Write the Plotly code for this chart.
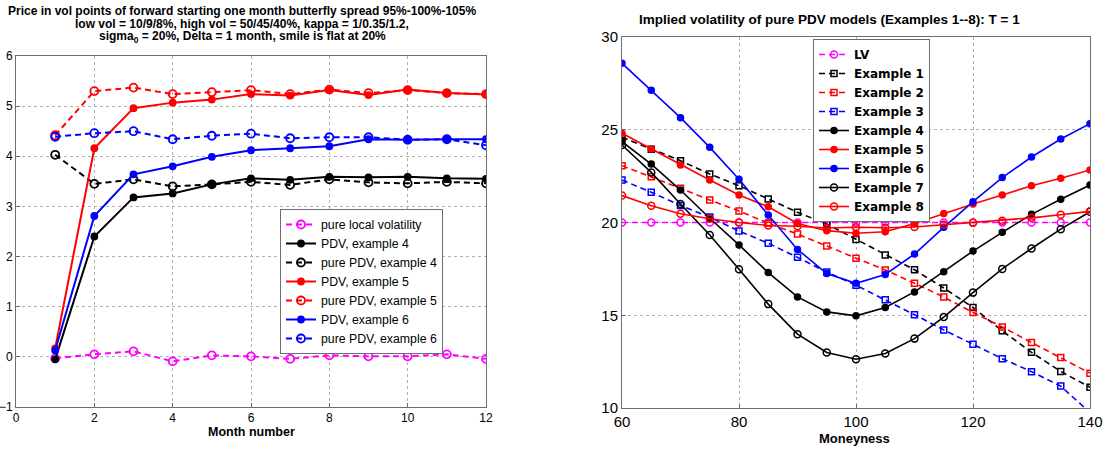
import plotly.graph_objects as go

# ---------------- Left chart data ----------------
months = [1, 2, 3, 4, 5, 6, 7, 8, 9, 10, 11, 12]
pure_lv = [-0.03, 0.05, 0.11, -0.09, 0.03, 0.01, -0.04, 0.03, 0.01, 0.01, 0.05, -0.04]
pdv_ex4 = [-0.05, 2.40, 3.18, 3.26, 3.44, 3.56, 3.53, 3.59, 3.58, 3.59, 3.56, 3.55]
pure_pdv_ex4 = [4.03, 3.45, 3.54, 3.40, 3.44, 3.49, 3.43, 3.54, 3.48, 3.46, 3.49, 3.46]
pdv_ex5 = [0.17, 4.16, 4.96, 5.07, 5.13, 5.24, 5.21, 5.32, 5.22, 5.33, 5.26, 5.23]
pure_pdv_ex5 = [4.42, 5.30, 5.37, 5.24, 5.28, 5.32, 5.24, 5.33, 5.26, 5.32, 5.26, 5.24]
pdv_ex6 = [0.13, 2.81, 3.64, 3.80, 3.99, 4.12, 4.16, 4.20, 4.34, 4.33, 4.34, 4.34]
pure_pdv_ex6 = [4.39, 4.46, 4.50, 4.34, 4.41, 4.45, 4.36, 4.38, 4.38, 4.33, 4.34, 4.22]

# ---------------- Right chart data ----------------
moneyness = [60, 65, 70, 75, 80, 85, 90, 95, 100, 105, 110, 115, 120, 125, 130, 135, 140]
lv = [20, 20, 20, 20, 20, 20, 20, 20, 20, 20, 20, 20, 20, 20, 20, 20, 20]
ex1 = [24.6, 23.95, 23.33, 22.61, 21.98, 21.27, 20.55, 19.92, 19.09, 18.25, 17.45, 16.47, 15.42, 14.16, 13.0, 11.97, 11.12]
ex2 = [23.06, 22.47, 21.84, 21.21, 20.62, 19.96, 19.38, 18.73, 18.07, 17.44, 16.72, 15.98, 15.15, 14.37, 13.53, 12.72, 11.88]
ex3 = [22.29, 21.63, 20.92, 20.29, 19.54, 18.88, 18.12, 17.33, 16.62, 15.84, 15.03, 14.21, 13.43, 12.66, 11.96, 11.18, 9.75]
ex4 = [24.36, 23.15, 21.75, 20.23, 18.79, 17.3, 15.99, 15.18, 14.97, 15.42, 16.26, 17.34, 18.46, 19.47, 20.44, 21.25, 22.02]
ex5 = [24.81, 23.96, 23.1, 22.29, 21.48, 20.85, 19.95, 19.56, 19.42, 19.5, 19.95, 20.49, 21.0, 21.48, 21.98, 22.38, 22.83]
ex6 = [28.58, 27.13, 25.65, 24.05, 22.33, 20.4, 18.55, 17.25, 16.72, 17.2, 18.3, 19.74, 21.12, 22.42, 23.53, 24.5, 25.33]
ex7 = [24.18, 22.7, 21.0, 19.33, 17.48, 15.6, 13.98, 12.99, 12.63, 12.94, 13.74, 14.9, 16.22, 17.5, 18.6, 19.64, 20.58]
ex8 = [21.45, 20.9, 20.47, 20.2, 20.0, 19.84, 19.8, 19.7, 19.74, 19.72, 19.76, 19.88, 19.98, 20.1, 20.25, 20.42, 20.6]

MAG = "#FF00FF"
BLK = "#000000"
RED = "#FF0000"
BLU = "#0000FF"
DASH = "6px,4px"
FONT = "Liberation Sans, Arial, sans-serif"

fig = go.Figure()


def add_left(name, y, color, dashed, filled):
    fig.add_trace(go.Scatter(
        x=months, y=y, name=name, mode="lines+markers",
        line=dict(color=color, width=2, dash=DASH if dashed else "solid"),
        marker=dict(symbol="circle" if filled else "circle-open",
                    size=6 if filled else 8, color=color,
                    line=dict(color=color, width=1.8)),
        xaxis="x", yaxis="y", legend="legend",
    ))


add_left("pure local volatility", pure_lv, MAG, True, False)
add_left("PDV, example 4", pdv_ex4, BLK, False, True)
add_left("pure PDV, example 4", pure_pdv_ex4, BLK, True, False)
add_left("PDV, example 5", pdv_ex5, RED, False, True)
add_left("pure PDV, example 5", pure_pdv_ex5, RED, True, False)
add_left("PDV, example 6", pdv_ex6, BLU, False, True)
add_left("pure PDV, example 6", pure_pdv_ex6, BLU, True, False)


def add_right(name, y, color, dashed, symbol, size):
    fig.add_trace(go.Scatter(
        x=moneyness, y=y, name=name, mode="lines+markers",
        line=dict(color=color, width=1.6, dash=DASH if dashed else "solid"),
        marker=dict(symbol=symbol, size=size, color=color,
                    line=dict(color=color, width=1.5)),
        xaxis="x2", yaxis="y2", legend="legend2",
    ))


add_right("LV", lv, MAG, True, "circle-open", 7)
add_right("Example 1", ex1, BLK, True, "square-open", 6)
add_right("Example 2", ex2, RED, True, "square-open", 6)
add_right("Example 3", ex3, BLU, True, "square-open", 6)
add_right("Example 4", ex4, BLK, False, "circle", 6)
add_right("Example 5", ex5, RED, False, "circle", 6)
add_right("Example 6", ex6, BLU, False, "circle", 6)
add_right("Example 7", ex7, BLK, False, "circle-open", 7)
add_right("Example 8", ex8, RED, False, "circle-open", 7)

W, H = 1109, 449
axis_common = dict(
    showgrid=True, gridcolor="#b0b0b0", griddash="dot", gridwidth=1,
    showline=True, linecolor="#6e6e6e", linewidth=1, mirror=True,
    ticks="inside", ticklen=4, tickcolor="#6e6e6e", zeroline=False,
    automargin=False,
)

fig.update_layout(
    width=W, height=H,
    margin=dict(l=0, r=0, t=0, b=0, autoexpand=False),
    paper_bgcolor="white", plot_bgcolor="white",
    font=dict(family=FONT, color="black"),
    xaxis=dict(domain=[16 / W, 486 / W], range=[0, 12], tickvals=[0, 2, 4, 6, 8, 10, 12],
               tickfont=dict(size=12), anchor="y", **axis_common),
    yaxis=dict(domain=[(H - 407) / H, (H - 56) / H], range=[-1, 6], tickvals=[-1, 0, 1, 2, 3, 4, 5, 6],
               tickfont=dict(size=12), anchor="x", **axis_common),
    xaxis2=dict(domain=[622 / W, 1090 / W], range=[60, 140], tickvals=[60, 80, 100, 120, 140],
                tickfont=dict(size=15), anchor="y2", **axis_common),
    yaxis2=dict(domain=[(H - 408) / H, (H - 37) / H], range=[10, 30], tickvals=[10, 15, 20, 25, 30],
                tickfont=dict(size=15), anchor="x2", **axis_common),
    legend=dict(x=280 / W, y=(H - 209) / H, xanchor="left", yanchor="top",
                bgcolor="white", bordercolor="#6e6e6e", borderwidth=1,
                font=dict(size=12.3, family=FONT), tracegroupgap=0, itemwidth=30),
    legend2=dict(x=813 / W, y=(H - 39) / H, xanchor="left", yanchor="top",
                 bgcolor="white", bordercolor="#6e6e6e", borderwidth=1,
                 font=dict(size=12, family="DejaVu Sans, sans-serif", weight="bold"),
                 tracegroupgap=0, itemwidth=30),
    showlegend=True,
)

ann = []
ann.append(dict(text="<b>Price in vol points of forward starting one month butterfly spread 95%-100%-105%</b>",
                x=242 / W, y=(H - 11) / H, xref="paper", yref="paper", showarrow=False,
                xanchor="center", yanchor="middle", font=dict(size=12)))
ann.append(dict(text="<b>low vol = 10/9/8%, high vol = 50/45/40%, kappa = 1/0.35/1.2,</b>",
                x=242 / W, y=(H - 24) / H, xref="paper", yref="paper", showarrow=False,
                xanchor="center", yanchor="middle", font=dict(size=12)))
ann.append(dict(text="<b>sigma<sub>0</sub> = 20%, Delta = 1 month, smile is flat at 20%</b>",
                x=242 / W, y=(H - 37) / H, xref="paper", yref="paper", showarrow=False,
                xanchor="center", yanchor="middle", font=dict(size=12)))
ann.append(dict(text="<b>Month number</b>", x=251 / W, y=(H - 432) / H, xref="paper", yref="paper",
                showarrow=False, xanchor="center", yanchor="middle", font=dict(size=12.5)))
ann.append(dict(text="<b>Implied volatility of pure PDV models (Examples 1--8): T = 1</b>",
                x=829 / W, y=(H - 19) / H, xref="paper", yref="paper", showarrow=False,
                xanchor="center", yanchor="middle", font=dict(size=13.5)))
ann.append(dict(text="<b>Moneyness</b>", x=854 / W, y=(H - 438) / H, xref="paper", yref="paper",
                showarrow=False, xanchor="center", yanchor="middle", font=dict(size=13)))
fig.update_layout(annotations=ann)

fig.write_html("out.html", config={"displayModeBar": False},
               post_script="document.body.style.margin='0px';")
